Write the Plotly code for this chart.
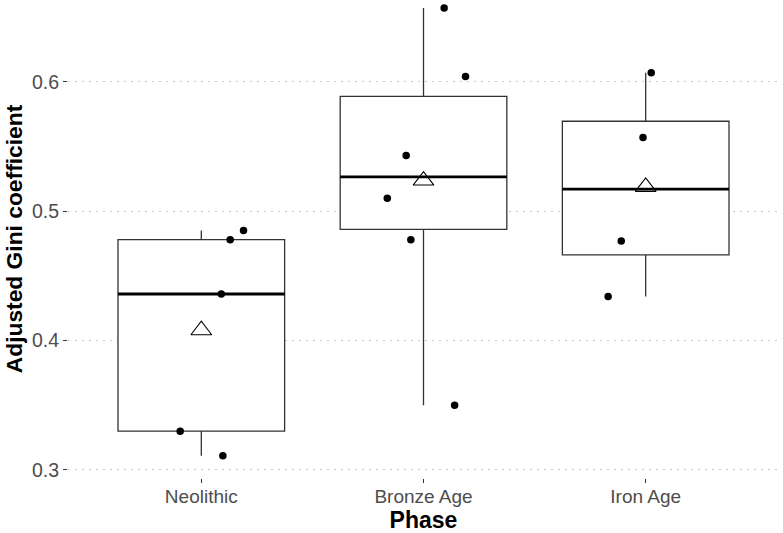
import numpy as np
import plotly.graph_objects as go

# ---- data ----
phases = ["Neolithic", "Bronze Age", "Iron Age"]
neolithic = [0.485, 0.478, 0.436, 0.330, 0.311]
bronze_age = [0.657, 0.604, 0.543, 0.510, 0.478, 0.350]
iron_age = [0.607, 0.557, 0.477, 0.434]
# horizontal jitter of each point (category units)
neolithic_jitter = [0.19, 0.13, 0.09, -0.095, 0.097]
bronze_age_jitter = [0.093, 0.189, -0.078, -0.163, -0.057, 0.14]
iron_age_jitter = [0.025, -0.012, -0.11, -0.169]
y_ticks = [0.3, 0.4, 0.5, 0.6]

groups = [neolithic, bronze_age, iron_age]
jitters = [neolithic_jitter, bronze_age_jitter, iron_age_jitter]

LINE = "#333333"
BOXW = 0.75
fig = go.Figure()

for i, (vals, jit) in enumerate(zip(groups, jitters)):
    pos = i + 1
    v = np.array(vals)
    q1, med, q3 = np.percentile(v, [25, 50, 75])
    iqr = q3 - q1
    lo = v[v >= q1 - 1.5 * iqr].min()
    hi = v[v <= q3 + 1.5 * iqr].max()
    fig.add_trace(go.Box(
        x=[pos], q1=[q1], median=[med], q3=[q3],
        lowerfence=[lo], upperfence=[hi],
        width=BOXW, fillcolor="white",
        line=dict(color=LINE, width=1.3),
        whiskerwidth=0, boxpoints=False, showlegend=False, hoverinfo="skip",
    ))
    # thicker median line
    fig.add_trace(go.Scatter(
        x=[pos - BOXW / 2, pos + BOXW / 2], y=[med, med], mode="lines",
        line=dict(color="black", width=2.8), showlegend=False, hoverinfo="skip",
    ))

for i, (vals, jit) in enumerate(zip(groups, jitters)):
    pos = i + 1
    fig.add_trace(go.Scatter(
        x=[pos + j for j in jit], y=vals, mode="markers",
        marker=dict(color="black", size=7.5), showlegend=False, cliponaxis=False,
    ))

means = [float(np.mean(g)) for g in groups]
fig.add_trace(go.Scatter(
    x=[1, 2, 3], y=means, mode="markers",
    marker=dict(symbol="triangle-up-open", size=18, color="black",
                line=dict(width=1.1, color="black")),
    showlegend=False,
))

fig.update_layout(
    width=783, height=533,
    margin=dict(l=68, r=4, t=0, b=55),
    paper_bgcolor="white", plot_bgcolor="white",
    font=dict(family="Liberation Sans, Arial, sans-serif", color="#4d4d4d"),
    xaxis=dict(
        range=[0.4, 3.6], tickvals=[1, 2, 3], ticktext=phases,
        showgrid=False, zeroline=False, showline=False,
        ticks="outside", ticklen=4, tickcolor=LINE, tickwidth=1,
        ticklabelstandoff=-3,
        tickfont=dict(size=19, color="#4d4d4d"),
        title=dict(text="<b>Phase</b>", font=dict(size=23, color="black"), standoff=2),
    ),
    yaxis=dict(
        range=[0.2938, 0.6632], tickvals=y_ticks, ticktext=[f"{t:.1f}" for t in y_ticks],
        showgrid=True, gridcolor="#c8c8c8", griddash="2px,5px", gridwidth=1.2,
        zeroline=False, showline=False,
        ticks="outside", ticklen=4, tickcolor=LINE, tickwidth=1,
        tickfont=dict(size=19.5, color="#4d4d4d"),
        title=dict(text="<b>Adjusted Gini coefficient</b>", font=dict(size=22.8, color="black"), standoff=3),
    ),
)

fig.write_html("out.html", config={"displayModeBar": False},
               post_script="document.body.style.margin='0';")
